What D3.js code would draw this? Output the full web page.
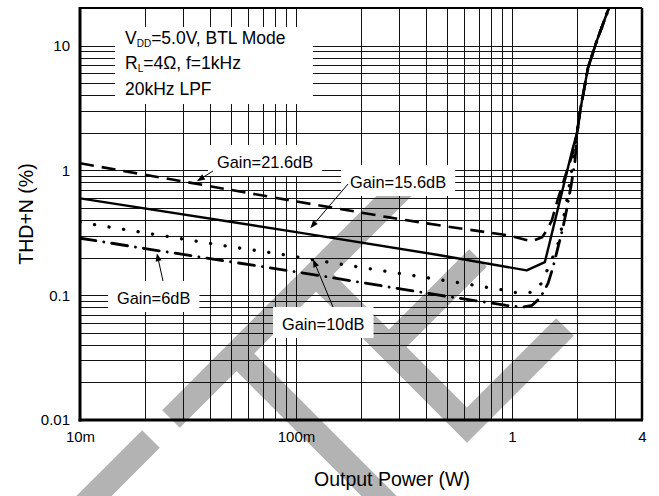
<!DOCTYPE html>
<html>
<head>
<meta charset="utf-8">
<script src="https://cdn.jsdelivr.net/npm/d3@7"></script>
<style>
  body { margin: 0; background: #fff; }
  svg { display: block; font-family: "Liberation Sans", Arial, Helvetica, sans-serif; }
</style>
</head>
<body>
<svg id="chart" width="659" height="496"></svg>
<script>
// THD+N versus output power for four gain settings (log-log)

// axis ticks
const powerTicks = [0.01, 0.1, 1, 4];
const powerTickLabels = ["10m", "100m", "1", "4"];
const thdTicks = [0.01, 0.1, 1, 10];
const thdTickLabels = ["0.01", "0.1", "1", "10"];

// Gain = 21.6 dB (dashed)
const gain216Power = [0.01, 0.094, 0.27, 0.46, 0.98, 1.23, 1.38, 1.45, 1.53, 1.63, 1.80, 1.90, 2.0, 2.07, 2.25, 2.47, 2.78, 2.9];
const gain216Thd   = [1.14, 0.575, 0.42, 0.363, 0.30, 0.27, 0.291, 0.331, 0.398, 0.586, 1.0, 1.318, 1.98, 3.02, 6.66, 10.9, 19, 22];

// Gain = 15.6 dB (solid)
const gain156Power = [0.01, 0.102, 0.464, 1.17, 1.42, 1.64, 1.90, 2.0, 2.07, 2.25, 2.47, 2.78, 2.9];
const gain156Thd   = [0.597, 0.319, 0.209, 0.158, 0.184, 0.51, 1.445, 1.98, 3.02, 6.66, 10.9, 19, 22];

// Gain = 10 dB (dotted)
const gain10Power = [0.01, 0.024, 0.046, 0.091, 0.125, 0.336, 0.55, 0.91, 1.07, 1.27, 1.38, 1.50, 1.62, 1.69, 1.78, 1.86, 1.94, 2.0, 2.07, 2.25, 2.47, 2.78, 2.9];
const gain10Thd   = [0.384, 0.30, 0.25, 0.209, 0.19, 0.145, 0.127, 0.11, 0.104, 0.106, 0.127, 0.18, 0.242, 0.331, 0.525, 0.832, 1.32, 1.98, 3.02, 6.66, 10.9, 19, 22];

// Gain = 6 dB (dash-dot)
const gain6Power = [0.01, 0.0225, 0.102, 0.46, 0.94, 1.12, 1.24, 1.35, 1.47, 1.55, 1.63, 1.72, 1.80, 1.88, 1.96, 2.0, 2.07, 2.25, 2.47, 2.78, 2.9];
const gain6Thd   = [0.286, 0.229, 0.153, 0.1, 0.083, 0.08, 0.083, 0.095, 0.125, 0.168, 0.238, 0.344, 0.506, 0.759, 1.2, 1.98, 3.02, 6.66, 10.9, 19, 22];

const seriesNames = ["Gain=21.6dB", "Gain=15.6dB", "Gain=10dB", "Gain=6dB"];

const svg = d3.select("#chart");
const W = 659, H = 496;
const plot = { left: 80, right: 642, top: 8, bottom: 420 };

const x = d3.scaleLog().domain([0.01, 4]).range([plot.left, plot.right]);
const y = d3.scaleLog().domain([0.01, 20]).range([plot.bottom, plot.top]);

svg.append("rect").attr("width", W).attr("height", H).attr("fill", "#fff");

// background watermark strokes
const wm = svg.append("g").attr("fill", "none").attr("stroke", "#b3b3b3")
  .attr("stroke-width", 25).attr("stroke-linecap", "butt").attr("stroke-linejoin", "miter");
const wmPaths = [
  [[40, 550], [151, 439]],
  [[171, 419], [405, 185]],
  [[316, 274], [467, 425], [565, 327]],
  [[389, 347], [478, 258]],
  [[236.5, 353.5], [440, 557]]
];
wmPaths.forEach(p => wm.append("path").attr("d", d3.line()(p)));

// grid
const gridX = svg.append("g").attr("transform", `translate(0,${plot.bottom})`)
  .call(d3.axisBottom(x).tickValues(x.ticks()).tickSize(-(plot.bottom - plot.top)).tickFormat(""));
const gridY = svg.append("g").attr("transform", `translate(${plot.left},0)`)
  .call(d3.axisLeft(y).tickValues(y.ticks()).tickSize(-(plot.right - plot.left)).tickFormat(""));
[gridX, gridY].forEach(g => {
  g.select(".domain").remove();
  g.selectAll("line").attr("stroke", "#111").attr("stroke-width", 1).attr("shape-rendering", "crispEdges");
});

// frame
svg.append("line").attr("x1", plot.left).attr("x2", plot.right).attr("y1", plot.top).attr("y2", plot.top)
  .attr("stroke", "#000").attr("stroke-width", 2);
svg.append("line").attr("x1", plot.right).attr("x2", plot.right).attr("y1", plot.top).attr("y2", plot.bottom)
  .attr("stroke", "#000").attr("stroke-width", 2.5);
svg.append("line").attr("x1", plot.left).attr("x2", plot.left).attr("y1", plot.top - 1).attr("y2", plot.bottom + 1.5)
  .attr("stroke", "#000").attr("stroke-width", 3);
svg.append("line").attr("x1", plot.left - 1.5).attr("x2", plot.right + 1).attr("y1", plot.bottom).attr("y2", plot.bottom)
  .attr("stroke", "#000").attr("stroke-width", 3);

// curves
svg.append("clipPath").attr("id", "plotclip").append("rect")
  .attr("x", plot.left).attr("y", plot.top).attr("width", plot.right - plot.left).attr("height", plot.bottom - plot.top);

const series = [
  { power: gain216Power, thd: gain216Thd, dash: "14,8", width: 2.6, cap: "butt" },
  { power: gain156Power, thd: gain156Thd, dash: null, width: 2.4, cap: "butt" },
  { power: gain10Power, thd: gain10Thd, dash: "0.1,14.6", width: 3.3, cap: "round" },
  { power: gain6Power, thd: gain6Thd, dash: "16,8,0.1,8", width: 2.8, cap: "round" }
];
const line = d3.line().x(d => x(d[0])).y(d => y(d[1]));
const curves = svg.append("g").attr("clip-path", "url(#plotclip)");
series.forEach(s => {
  curves.append("path")
    .attr("d", line(d3.zip(s.power, s.thd)))
    .attr("fill", "none").attr("stroke", "#000")
    .attr("stroke-width", s.width)
    .attr("stroke-linecap", s.cap)
    .attr("stroke-linejoin", "round")
    .attr("stroke-dasharray", s.dash);
});

// condition box
const cond = svg.append("g");
cond.append("rect").attr("x", 115).attr("y", 27).attr("width", 198).attr("height", 77).attr("fill", "#fff");
const condText = cond.append("g").attr("font-size", 17.5).attr("fill", "#000");
const t1 = condText.append("text").attr("x", 125).attr("y", 44);
t1.append("tspan").text("V");
t1.append("tspan").attr("font-size", 10).attr("dy", 3).text("DD");
t1.append("tspan").attr("dy", -3).text("=5.0V, BTL Mode");
const t2 = condText.append("text").attr("x", 125).attr("y", 69);
t2.append("tspan").text("R");
t2.append("tspan").attr("font-size", 10).attr("dy", 3).text("L");
t2.append("tspan").attr("dy", -3).text("=4Ω, f=1kHz");
condText.append("text").attr("x", 125).attr("y", 95).text("20kHz LPF");

// curve annotations: label, label anchor, arrow tail (px) and arrow tip in data units
const notes = [
  { name: seriesNames[0], tx: 217, ty: 168, tail: [213, 171], tip: [0.0348, 0.82] },
  { name: seriesNames[1], tx: 350, ty: 188, tail: [348, 184], tip: [0.1165, 0.344] },
  { name: seriesNames[2], tx: 282, ty: 330, tail: [333, 307], tip: [0.12, 0.194] },
  { name: seriesNames[3], tx: 117, ty: 304, tail: [163, 281], tip: [0.0227, 0.217] }
];
const ann = svg.append("g");
notes.forEach(n => {
  const txt = ann.append("text").attr("x", n.tx).attr("y", n.ty).attr("font-size", 16.4).text(n.name);
  const bb = txt.node().getBBox();
  ann.insert("rect", "text").attr("x", n.tx - 9).attr("y", n.ty - 23)
    .attr("width", bb.width + 18).attr("height", 31).attr("fill", "#fff");
  const tx = x(n.tip[0]), ty = y(n.tip[1]);
  const [sx, sy] = n.tail;
  const ang = Math.atan2(ty - sy, tx - sx);
  const len = 8, hw = 3;
  const bx = tx - len * Math.cos(ang), by = ty - len * Math.sin(ang);
  ann.append("line").attr("x1", sx).attr("y1", sy).attr("x2", bx).attr("y2", by)
    .attr("stroke", "#000").attr("stroke-width", 1);
  ann.append("path")
    .attr("d", `M${tx},${ty}L${bx + hw * Math.sin(ang)},${by - hw * Math.cos(ang)}L${bx - hw * Math.sin(ang)},${by + hw * Math.cos(ang)}Z`)
    .attr("fill", "#000");
});

// tick labels
const xAxis = svg.append("g").attr("transform", `translate(0,${plot.bottom})`)
  .call(d3.axisBottom(x).tickValues(powerTicks).tickSize(0).tickPadding(11.4)
    .tickFormat((d, i) => powerTickLabels[i]));
const yAxis = svg.append("g").attr("transform", `translate(${plot.left},0)`)
  .call(d3.axisLeft(y).tickValues(thdTicks).tickSize(0).tickPadding(10)
    .tickFormat((d, i) => thdTickLabels[i]));
[xAxis, yAxis].forEach(g => {
  g.select(".domain").remove();
  g.selectAll("text").attr("font-size", 15).attr("font-family", "Liberation Sans, Arial, sans-serif").attr("fill", "#000");
});

// axis titles
svg.append("text").attr("x", 392).attr("y", 486).attr("text-anchor", "middle")
  .attr("font-size", 19.5).attr("fill", "#000").text("Output Power (W)");
svg.append("text").attr("transform", "translate(33,214) rotate(-90)").attr("text-anchor", "middle")
  .attr("font-size", 19.5).attr("fill", "#000").text("THD+N (%)");
</script>
</body>
</html>
